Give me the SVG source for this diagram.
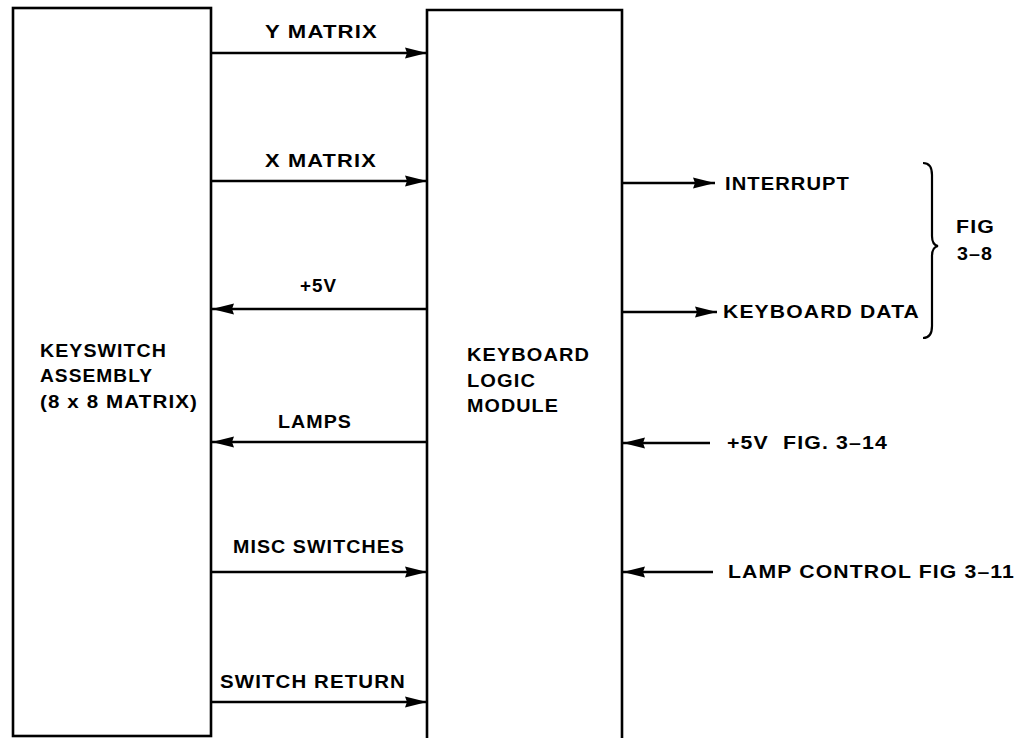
<svg xmlns="http://www.w3.org/2000/svg" width="1024" height="738" viewBox="0 0 1024 738">
<style>
text{font-family:"Liberation Sans",Arial,sans-serif;font-weight:bold;font-size:18.5px;fill:#000;letter-spacing:1px}
.box{fill:none;stroke:#000;stroke-width:2.6}
.wire{fill:none;stroke:#000;stroke-width:2.6}
.brace{fill:none;stroke:#000;stroke-width:2.2}
</style>
<defs>
<marker id="ah" markerUnits="userSpaceOnUse" markerWidth="22" markerHeight="12" refX="22" refY="6" orient="auto">
<path d="M0,0.5 L22,6 L0,11.5 L2,6 z" fill="#000"/>
</marker>
</defs>
<rect width="1024" height="738" fill="#fff"/>
<g id="keyswitch">
<rect class="box" x="13" y="8" width="198" height="728"/>
<text x="40" y="357" textLength="127" lengthAdjust="spacingAndGlyphs">KEYSWITCH</text>
<text x="40" y="382" textLength="113" lengthAdjust="spacingAndGlyphs">ASSEMBLY</text>
<text x="40" y="408" textLength="158" lengthAdjust="spacingAndGlyphs">(8 x 8 MATRIX)</text>
</g>
<g id="logic">
<path class="box" d="M427,745 V10 H622 V745"/>
<text x="467" y="361" textLength="123" lengthAdjust="spacingAndGlyphs">KEYBOARD</text>
<text x="467" y="387" textLength="69" lengthAdjust="spacingAndGlyphs">LOGIC</text>
<text x="467" y="412" textLength="92" lengthAdjust="spacingAndGlyphs">MODULE</text>
</g>
<g id="connectors">
<line class="wire" x1="211" y1="53" x2="427" y2="53" marker-end="url(#ah)"/>
<line class="wire" x1="211" y1="181" x2="427" y2="181" marker-end="url(#ah)"/>
<line class="wire" x1="427" y1="309" x2="212" y2="309" marker-end="url(#ah)"/>
<line class="wire" x1="427" y1="442" x2="212" y2="442" marker-end="url(#ah)"/>
<line class="wire" x1="211" y1="572" x2="427" y2="572" marker-end="url(#ah)"/>
<line class="wire" x1="211" y1="702" x2="427" y2="702" marker-end="url(#ah)"/>
<line class="wire" x1="622" y1="183" x2="715" y2="183" marker-end="url(#ah)"/>
<line class="wire" x1="622" y1="312" x2="717" y2="312" marker-end="url(#ah)"/>
<line class="wire" x1="710" y1="443" x2="623" y2="443" marker-end="url(#ah)"/>
<line class="wire" x1="713" y1="572" x2="623" y2="572" marker-end="url(#ah)"/>
<path class="brace" d="M923,163 Q932,163 932,175 L932,236 Q932,245 938,246 Q932,247 932,256 L932,326 Q932,338 923,338"/>
</g>
<g id="labels">
<text x="265" y="38" textLength="113" lengthAdjust="spacingAndGlyphs">Y MATRIX</text>
<text x="265" y="167" textLength="112" lengthAdjust="spacingAndGlyphs">X MATRIX</text>
<text x="300" y="292" textLength="37" lengthAdjust="spacingAndGlyphs">+5V</text>
<text x="278" y="428" textLength="74" lengthAdjust="spacingAndGlyphs">LAMPS</text>
<text x="233" y="553" textLength="172" lengthAdjust="spacingAndGlyphs">MISC SWITCHES</text>
<text x="220" y="688" textLength="186" lengthAdjust="spacingAndGlyphs">SWITCH RETURN</text>
<text x="725" y="190" textLength="125" lengthAdjust="spacingAndGlyphs">INTERRUPT</text>
<text x="723" y="318" textLength="197" lengthAdjust="spacingAndGlyphs">KEYBOARD DATA</text>
<text x="727" y="449" textLength="161" lengthAdjust="spacingAndGlyphs">+5V&#160; FIG. 3–14</text>
<text x="728" y="578" textLength="287" lengthAdjust="spacingAndGlyphs">LAMP CONTROL FIG 3–11</text>
<text x="956" y="233" textLength="39" lengthAdjust="spacingAndGlyphs">FIG</text>
<text x="957" y="260" textLength="36" lengthAdjust="spacingAndGlyphs">3–8</text>
</g>
</svg>
